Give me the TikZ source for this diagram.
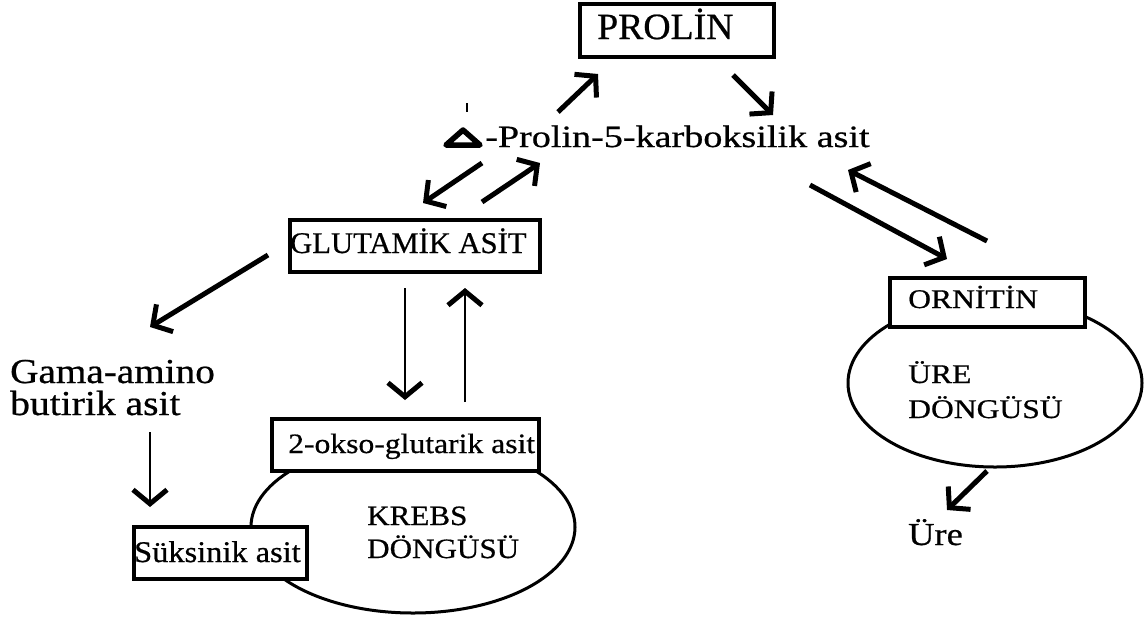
\documentclass[tikz,border=0pt]{standalone}
\usepackage{fontspec}
\setmainfont{Liberation Serif}[FakeBold=0.6]
\usepackage{graphicx}
\usetikzlibrary{arrows.meta,shapes.geometric}
\newcommand\fsz[1]{\fontsize{#1pt}{#1pt}\selectfont}
\newcommand\hs[2]{\scalebox{#1}[1]{#2}}
\begin{document}
\begin{tikzpicture}[x=1pt,y=-1pt,
  txt/.style={inner sep=0pt, anchor=base west},
  boxnode/.style={draw, line width=3.5pt, fill=white, inner sep=0pt, anchor=north west},
  cyc/.style={draw, ellipse, line width=3pt, inner sep=0pt},
  thickarrow/.style={-{Straight Barb[length=14pt,width=32pt,line width=5pt]}, line width=5pt},
  thinarrow/.style={-{Straight Barb[length=14pt,width=34pt,line width=5pt]}, line width=2.8pt},
]
\useasboundingbox (0,0) rectangle (1147,619);
% cycles
\node[cyc, minimum width=324pt, minimum height=172pt] (krebs) at (413,527) {};
\node[cyc, minimum width=294pt, minimum height=168pt] (urecyc) at (995,383) {};
% boxes
\node[boxnode, minimum width=194pt, minimum height=53pt] (prolinbox) at (578,2) {};
\node[boxnode, minimum width=250pt, minimum height=52pt] (glubox) at (288,218) {};
\node[boxnode, minimum width=267pt, minimum height=52pt] (oksobox) at (270,417) {};
\node[boxnode, minimum width=173pt, minimum height=52pt] (suksbox) at (132,525) {};
\node[boxnode, minimum width=195pt, minimum height=49pt] (ornbox) at (888,276) {};
% texts
\node[txt] (prolin) at (597,39) {\fsz{37}\hs{1.02}{PROLİN}};
\node[txt] (p5c) at (485,147) {\fsz{31}\hs{1.23}{-Prolin-5-karboksilik asit}};
\node[txt] (glu) at (290,253) {\fsz{30}\hs{1.02}{GLUTAMİK ASİT}};
\node[txt] (gaba1) at (10,383) {\fsz{35}\hs{1.12}{Gama-amino}};
\node[txt] (gaba2) at (10,415) {\fsz{35}\hs{1.13}{butirik asit}};
\node[txt] (suks) at (134,562) {\fsz{30}\hs{1.08}{Süksinik asit}};
\node[txt] (okso) at (288,453) {\fsz{28}\hs{1.13}{2-okso-glutarik asit}};
\node[txt] (krebs1) at (367,525) {\fsz{28}\hs{1.11}{KREBS}};
\node[txt] (krebs2) at (367,558) {\fsz{28}\hs{1.11}{DÖNGÜSÜ}};
\node[txt] (orn) at (908,308) {\fsz{27}\hs{1.17}{ORNİTİN}};
\node[txt] (ure1) at (908,383) {\fsz{27}\hs{1.17}{ÜRE}};
\node[txt] (ure2) at (908,418) {\fsz{27}\hs{1.17}{DÖNGÜSÜ}};
\node[txt] (ure) at (908,545) {\fsz{32}\hs{1.14}{Üre}};
% delta symbol and tick
\draw[line width=5.5pt, line join=round] (446,145) -- (463,130) -- (480,145) -- cycle;
\draw[line width=2.5pt] (467,103) -- (467,112);
% arrow end points
\coordinate (a1s) at (558,112); \coordinate (a1e) at (598,74);
\coordinate (a2s) at (733,75);  \coordinate (a2e) at (773,115);
\coordinate (a3s) at (482,163); \coordinate (a3e) at (423,203);
\coordinate (a4s) at (482,202); \coordinate (a4e) at (540,163);
\coordinate (a5s) at (268,255); \coordinate (a5e) at (150,327);
\coordinate (a6s) at (405,288); \coordinate (a6e) at (405,400);
\coordinate (a7s) at (465,402); \coordinate (a7e) at (465,288);
\coordinate (a8s) at (150,432); \coordinate (a8e) at (150,507);
\coordinate (a9s) at (810,185); \coordinate (a9e) at (947,259);
\coordinate (a10s) at (987,241); \coordinate (a10e) at (848,170);
\coordinate (a11s) at (987,471); \coordinate (a11e) at (947,510);
\draw[thickarrow] (a1s) -- (a1e);
\draw[thickarrow] (a2s) -- (a2e);
\draw[thickarrow] (a3s) -- (a3e);
\draw[thickarrow] (a4s) -- (a4e);
\draw[thickarrow] (a5s) -- (a5e);
\draw[thinarrow] (a6s) -- (a6e);
\draw[thinarrow] (a7s) -- (a7e);
\draw[thinarrow] (a8s) -- (a8e);
\draw[thickarrow] (a9s) -- (a9e);
\draw[thickarrow] (a10s) -- (a10e);
\draw[thickarrow] (a11s) -- (a11e);
\end{tikzpicture}
\end{document}
